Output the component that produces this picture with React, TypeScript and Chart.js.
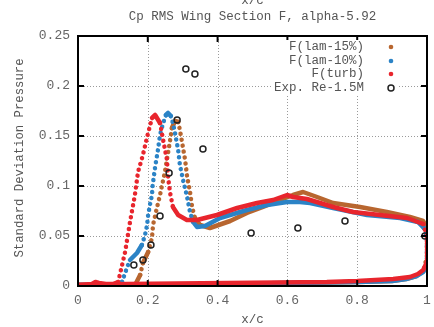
import React, { useEffect, useRef } from "react";
import { Chart, registerables } from "chart.js";

Chart.register(...registerables);

const TITLE = "Cp RMS Wing Section F, alpha-5.92";
const X_TITLE = "x/c";
const Y_TITLE = "Standard Deviation Pressure";
const X_TICKS = [0, 0.2, 0.4, 0.6, 0.8, 1];
const Y_TICKS = [0, 0.05, 0.1, 0.15, 0.2, 0.25];
const SERIES_LABELS = ["F(lam-15%)", "F(lam-10%)", "F(turb)", "Exp. Re-1.5M"];
const SERIES_COLORS = ["#b8662f", "#2b83c6", "#e8252d", "#222222"];

// F(lam-15%) : upper surface LE->TE then lower surface TE->LE
const BROWN_X = [0, 0.1, 0.15, 0.165, 0.178, 0.186, 0.201, 0.212, 0.215, 0.226, 0.235, 0.241, 0.249, 0.258, 0.264, 0.269, 0.278, 0.287, 0.292, 0.298, 0.307, 0.312, 0.321, 0.327, 0.335, 0.35, 0.378, 0.436, 0.484, 0.53, 0.579, 0.616, 0.645, 0.685, 0.731, 0.808, 0.885, 0.951, 0.989, 1.0,
  1.0, 0.99, 0.97, 0.94, 0.9, 0.8, 0.6, 0.4, 0.2, 0];
const BROWN_Y = [0.001, 0.001, 0.001, 0.002, 0.011, 0.023, 0.034, 0.048, 0.061, 0.078, 0.091, 0.101, 0.114, 0.133, 0.146, 0.158, 0.165, 0.164, 0.156, 0.144, 0.126, 0.111, 0.094, 0.079, 0.068, 0.061, 0.058, 0.065, 0.073, 0.079, 0.086, 0.091, 0.094, 0.089, 0.083, 0.079, 0.074, 0.069, 0.065, 0.058,
  0.03, 0.015, 0.01, 0.007, 0.005, 0.004, 0.003, 0.002, 0.001, 0.001];

// F(lam-10%)
const BLUE_X = [0, 0.06, 0.1, 0.12, 0.126, 0.14, 0.149, 0.169, 0.183, 0.192, 0.198, 0.201, 0.206, 0.212, 0.214, 0.221, 0.229, 0.235, 0.244, 0.252, 0.258, 0.266, 0.272, 0.278, 0.287, 0.292, 0.301, 0.312, 0.321, 0.33, 0.341, 0.364, 0.407, 0.484, 0.542, 0.599, 0.636, 0.665, 0.731, 0.828, 0.923, 0.974, 0.991, 1.0,
  1.0, 0.989, 0.97, 0.94, 0.9, 0.8, 0.6, 0.4, 0.2, 0];
const BLUE_Y = [0.001, 0.001, 0.001, 0.002, 0.004, 0.018, 0.026, 0.033, 0.041, 0.051, 0.061, 0.071, 0.081, 0.091, 0.101, 0.119, 0.136, 0.151, 0.163, 0.171, 0.173, 0.17, 0.163, 0.153, 0.136, 0.121, 0.106, 0.09, 0.074, 0.064, 0.059, 0.06, 0.068, 0.076, 0.081, 0.084, 0.084, 0.083, 0.078, 0.071, 0.068, 0.064, 0.058, 0.049,
  0.022, 0.014, 0.01, 0.007, 0.005, 0.004, 0.003, 0.002, 0.001, 0.001];

// F(turb)
const RED_X = [0, 0.04, 0.05, 0.06, 0.08, 0.1, 0.115, 0.135, 0.149, 0.163, 0.172, 0.186, 0.198, 0.212, 0.221, 0.235, 0.244, 0.255, 0.258, 0.264, 0.272, 0.287, 0.312, 0.341, 0.398, 0.456, 0.513, 0.559, 0.599, 0.616, 0.656, 0.731, 0.788, 0.865, 0.943, 0.989, 1.0,
  1.0, 0.989, 0.974, 0.951, 0.903, 0.8, 0.713, 0.427, 0.14, 0.03, 0];
const RED_Y = [0.001, 0.002, 0.004, 0.003, 0.002, 0.002, 0.004, 0.034, 0.064, 0.091, 0.114, 0.131, 0.149, 0.168, 0.171, 0.163, 0.146, 0.126, 0.109, 0.093, 0.079, 0.071, 0.066, 0.066, 0.071, 0.078, 0.083, 0.086, 0.091, 0.089, 0.087, 0.079, 0.074, 0.071, 0.068, 0.062, 0.05,
  0.024, 0.016, 0.012, 0.009, 0.007, 0.005, 0.004, 0.003, 0.002, 0.001, 0.001];

// Experiment
const EXP_X = [0.16, 0.186, 0.209, 0.235, 0.261, 0.284, 0.309, 0.335, 0.358, 0.496, 0.63, 0.765, 0.994];
const EXP_Y = [0.021, 0.026, 0.041, 0.07, 0.113, 0.166, 0.217, 0.212, 0.137, 0.053, 0.058, 0.065, 0.05];

const FONT = "'Liberation Mono', 'DejaVu Sans Mono', monospace";

const pts = (xs: number[], ys: number[]) => xs.map((x, i) => ({ x, y: ys[i] }));
const fmt = (v: any) => String(Number(Number(v).toFixed(4)));

const steepDash = (ctx: any) => {
  const dx = Math.abs(ctx.p1.x - ctx.p0.x);
  const dy = Math.abs(ctx.p1.y - ctx.p0.y);
  return dy > 2.5 * dx ? [0.01, 6] : undefined;
};

const framePlugin = {
  id: "frame",
  beforeDatasetsDraw(chart: any) {
    const { ctx, chartArea: a, scales } = chart;
    ctx.save();
    ctx.strokeStyle = "#9a9a9a";
    ctx.lineWidth = 1;
    ctx.setLineDash([1, 2]);
    X_TICKS.slice(1, -1).forEach((v) => {
      const px = Math.round(scales.x.getPixelForValue(v)) + 0.5;
      ctx.beginPath();
      ctx.moveTo(px, a.top);
      ctx.lineTo(px, a.bottom);
      ctx.stroke();
    });
    Y_TICKS.slice(1, -1).forEach((v) => {
      const py = Math.round(scales.y.getPixelForValue(v)) + 0.5;
      ctx.beginPath();
      ctx.moveTo(a.left, py);
      ctx.lineTo(a.right, py);
      ctx.stroke();
    });
    ctx.restore();
  },
  afterDatasetsDraw(chart: any) {
    const { ctx, chartArea: a, scales } = chart;
    ctx.save();
    ctx.setLineDash([]);
    ctx.strokeStyle = "#000";
    ctx.lineWidth = 2;
    ctx.strokeRect(a.left, a.top, a.right - a.left, a.bottom - a.top);
    const tl = 6;
    X_TICKS.slice(1, -1).forEach((v) => {
      const px = scales.x.getPixelForValue(v);
      ctx.beginPath();
      ctx.moveTo(px, a.bottom);
      ctx.lineTo(px, a.bottom - tl);
      ctx.moveTo(px, a.top);
      ctx.lineTo(px, a.top + tl);
      ctx.stroke();
    });
    Y_TICKS.slice(1, -1).forEach((v) => {
      const py = scales.y.getPixelForValue(v);
      ctx.beginPath();
      ctx.moveTo(a.left, py);
      ctx.lineTo(a.left + tl, py);
      ctx.moveTo(a.right, py);
      ctx.lineTo(a.right - tl, py);
      ctx.stroke();
    });

    // legend
    const textRight = 364;
    const markX = 391;
    const rows = [47, 61, 74, 88];
    ctx.fillStyle = "#fff";
    ctx.fillRect(273, 40, 125, 54);
    ctx.font = `12.5px ${FONT}`;
    ctx.textAlign = "right";
    ctx.textBaseline = "middle";
    SERIES_LABELS.forEach((lab, i) => {
      ctx.fillStyle = "#555";
      ctx.fillText(lab, textRight, rows[i]);
      if (i < 3) {
        ctx.fillStyle = SERIES_COLORS[i];
        ctx.beginPath();
        ctx.arc(markX, rows[i], 2.3, 0, Math.PI * 2);
        ctx.fill();
      } else {
        ctx.strokeStyle = SERIES_COLORS[i];
        ctx.lineWidth = 1.5;
        ctx.beginPath();
        ctx.arc(markX, rows[i], 3, 0, Math.PI * 2);
        ctx.stroke();
      }
    });

    // titles
    ctx.fillStyle = "#555";
    ctx.textAlign = "center";
    ctx.font = `12.5px ${FONT}`;
    const cx = (a.left + a.right) / 2;
    ctx.fillText(X_TITLE, cx, 1);
    ctx.fillText(TITLE, cx, 17);
    ctx.fillText(X_TITLE, cx, 320);
    ctx.translate(20, 158);
    ctx.rotate(-Math.PI / 2);
    ctx.font = `12.3px ${FONT}`;
    ctx.fillText(Y_TITLE, 0, 0);
    ctx.restore();
  },
};

export default function App() {
  const ref = useRef<HTMLCanvasElement | null>(null);
  useEffect(() => {
    document.body.style.margin = "0";
    if (!ref.current) return;
    const lineDs = (i: number, xs: number[], ys: number[], order: number) => ({
      label: SERIES_LABELS[i],
      data: pts(xs, ys),
      borderColor: SERIES_COLORS[i],
      backgroundColor: SERIES_COLORS[i],
      borderWidth: 4.5,
      borderCapStyle: "round" as const,
      borderJoinStyle: "round" as const,
      pointRadius: 0,
      tension: 0,
      fill: false,
      order,
      segment: { borderDash: steepDash },
    });
    const chart = new Chart(ref.current, {
      type: "line",
      data: {
        datasets: [
          lineDs(0, BROWN_X, BROWN_Y, 3),
          lineDs(1, BLUE_X, BLUE_Y, 2),
          lineDs(2, RED_X, RED_Y, 1),
          {
            label: SERIES_LABELS[3],
            data: pts(EXP_X, EXP_Y),
            showLine: false,
            pointRadius: 3,
            pointBorderWidth: 1.5,
            pointBorderColor: SERIES_COLORS[3],
            pointBackgroundColor: "rgba(0,0,0,0)",
            borderColor: SERIES_COLORS[3],
            order: 0,
          } as any,
        ],
      },
      options: {
        responsive: false,
        animation: false,
        devicePixelRatio: 1,
        layout: { padding: { top: 36, right: 7, left: 0, bottom: 0 } },
        plugins: { legend: { display: false }, title: { display: false }, tooltip: { enabled: false } },
        scales: {
          x: {
            type: "linear",
            min: 0,
            max: 1,
            afterFit: (s: any) => { s.height = 41; s.paddingLeft = 0; s.paddingRight = 0; },
            afterBuildTicks: (s: any) => { s.ticks = X_TICKS.map((v) => ({ value: v })); },
            grid: { display: false, drawTicks: false },
            border: { display: false },
            ticks: { color: "#666", font: { family: FONT, size: 13 }, padding: 7, maxRotation: 0, callback: fmt },
          },
          y: {
            type: "linear",
            min: 0,
            max: 0.25,
            afterFit: (s: any) => { s.width = 78; s.paddingTop = 0; s.paddingBottom = 0; },
            afterBuildTicks: (s: any) => { s.ticks = Y_TICKS.map((v) => ({ value: v })); },
            grid: { display: false, drawTicks: false },
            border: { display: false },
            ticks: { color: "#666", font: { family: FONT, size: 13 }, padding: 8, callback: fmt },
          },
        },
      },
      plugins: [framePlugin],
    });
    return () => chart.destroy();
  }, []);
  return (
    <div style={{ width: 434, height: 327 }}>
      <canvas ref={ref} width={434} height={327} />
    </div>
  );
}
